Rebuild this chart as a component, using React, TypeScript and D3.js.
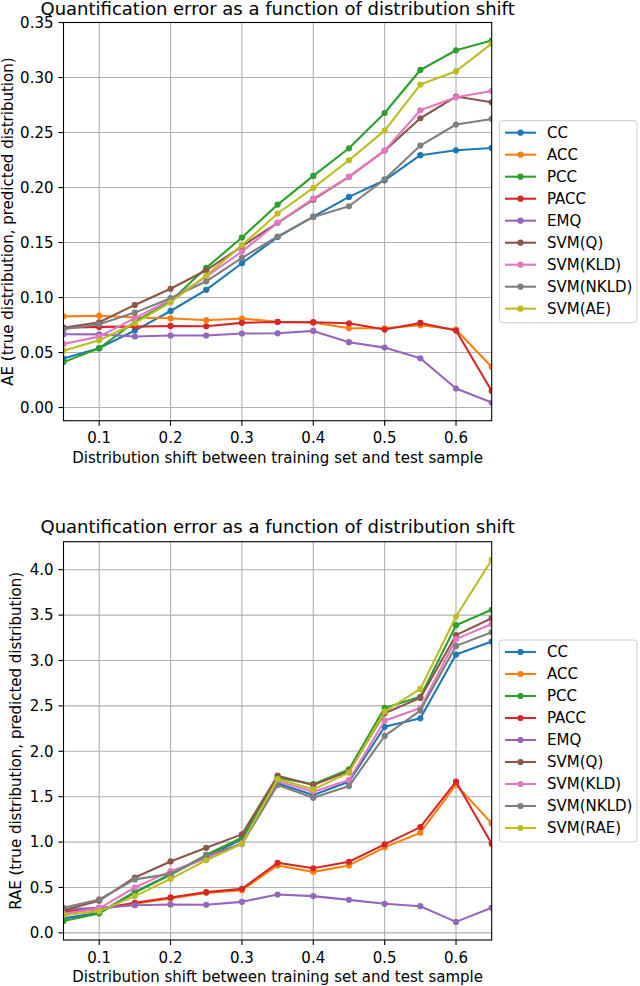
import * as d3 from 'd3';
import React from 'react';

const shifts = [0.05, 0.1, 0.15, 0.2, 0.25, 0.3, 0.35, 0.4, 0.45, 0.5, 0.55, 0.6, 0.65];
const xTicks = [0.1, 0.2, 0.3, 0.4, 0.5, 0.6];

const methodsAE = ['CC', 'ACC', 'PCC', 'PACC', 'EMQ', 'SVM(Q)', 'SVM(KLD)', 'SVM(NKLD)', 'SVM(AE)'];
const methodsRAE = ['CC', 'ACC', 'PCC', 'PACC', 'EMQ', 'SVM(Q)', 'SVM(KLD)', 'SVM(NKLD)', 'SVM(RAE)'];
const colors = ['#1f77b4', '#ff7f0e', '#2ca02c', '#d62728', '#9467bd', '#8c564b', '#e377c2', '#7f7f7f', '#bcbd22'];

const aeCC = [0.0445, 0.054, 0.07, 0.0878, 0.107, 0.1312, 0.155, 0.1735, 0.1915, 0.2066, 0.2294, 0.2339, 0.236];
const aeACC = [0.0829, 0.0835, 0.0818, 0.0812, 0.0794, 0.0809, 0.078, 0.0773, 0.0721, 0.0721, 0.0748, 0.0709, 0.0369];
const aePCC = [0.0413, 0.0538, 0.078, 0.0966, 0.127, 0.1546, 0.1845, 0.2106, 0.2357, 0.2678, 0.3069, 0.3248, 0.3336];
const aePACC = [0.0725, 0.0733, 0.0736, 0.0742, 0.0739, 0.077, 0.0778, 0.0776, 0.0766, 0.0709, 0.0769, 0.07, 0.0151];
const aeEMQ = [0.0667, 0.0665, 0.0646, 0.0655, 0.0655, 0.0673, 0.0675, 0.0697, 0.0594, 0.0545, 0.0448, 0.0173, 0.0045];
const aeSvmQ = [0.0726, 0.0775, 0.0933, 0.108, 0.1248, 0.1466, 0.168, 0.189, 0.2097, 0.2336, 0.263, 0.2827, 0.2775];
const aeSvmKLD = [0.0578, 0.0645, 0.0813, 0.098, 0.119, 0.1418, 0.168, 0.19, 0.2097, 0.2336, 0.2703, 0.2821, 0.2878];
const aeSvmNKLD = [0.0712, 0.0758, 0.0863, 0.0994, 0.1148, 0.136, 0.1555, 0.1733, 0.183, 0.2075, 0.2382, 0.2573, 0.2624];
const aeSvmAE = [0.0517, 0.0612, 0.0767, 0.0957, 0.12, 0.1475, 0.1764, 0.1997, 0.2248, 0.2518, 0.2936, 0.3057, 0.3309];

const raeCC = [0.16, 0.22, 0.45, 0.645, 0.84, 1.03, 1.647, 1.518, 1.665, 2.27, 2.364, 3.065, 3.208];
const raeACC = [0.22, 0.26, 0.32, 0.38, 0.44, 0.47, 0.743, 0.672, 0.743, 0.942, 1.103, 1.632, 1.206];
const raePCC = [0.13, 0.215, 0.445, 0.64, 0.86, 1.048, 1.71, 1.638, 1.8, 2.478, 2.6, 3.389, 3.558];
const raePACC = [0.238, 0.265, 0.331, 0.39, 0.449, 0.485, 0.772, 0.712, 0.783, 0.975, 1.165, 1.665, 0.981];
const raeEMQ = [0.26, 0.275, 0.305, 0.313, 0.31, 0.342, 0.423, 0.405, 0.364, 0.32, 0.294, 0.121, 0.276];
const raeSvmQ = [0.25, 0.355, 0.61, 0.787, 0.937, 1.085, 1.731, 1.628, 1.78, 2.419, 2.588, 3.279, 3.466];
const raeSvmKLD = [0.21, 0.27, 0.5, 0.68, 0.82, 0.99, 1.672, 1.555, 1.683, 2.337, 2.477, 3.235, 3.403];
const raeSvmNKLD = [0.276, 0.368, 0.589, 0.65, 0.85, 0.978, 1.628, 1.488, 1.617, 2.169, 2.448, 3.161, 3.312];
const raeSvmRAE = [0.195, 0.239, 0.405, 0.595, 0.8, 0.98, 1.695, 1.581, 1.765, 2.437, 2.687, 3.484, 4.109];

const aeTicks = [0, 0.05, 0.1, 0.15, 0.2, 0.25, 0.3, 0.35];
const raeTicks = [0, 0.5, 1, 1.5, 2, 2.5, 3, 3.5, 4];

const FONT = '"DejaVu Sans", sans-serif';
const FS = 15;
const left = 63.5, right = 491.7;

interface PanelProps {
    id: string;
    top: number;
    bottom: number;
    names: string[];
    values: number[][];
    yTicks: number[];
    fmt: string;
    yLabel: string;
    yLabelX: number;
    legendTop: number;
}

const Panel: React.FC<PanelProps> = ({ id, top, bottom, names, values, yTicks, fmt, yLabel, yLabelX, legendTop }) => {
    const all = values.flat();
    const lo = d3.min(all)!, hi = d3.max(all)!;
    const pad = (hi - lo) * 0.05;
    const x = d3.scaleLinear().domain([0.05, 0.65]).range([left, right]);
    const y = d3.scaleLinear().domain([lo - pad, hi + pad]).range([bottom, top]);
    const line = d3.line<number>().x((_, i) => x(shifts[i])).y(d => y(d));
    const f = d3.format(fmt);

    return (
        <g>
            <defs>
                <clipPath id={id}>
                    <rect x={left} y={top} width={right - left} height={bottom - top} />
                </clipPath>
            </defs>
            {xTicks.map(t => (
                <line key={'gx' + t} x1={x(t)} x2={x(t)} y1={top} y2={bottom} stroke="#b0b0b0" strokeWidth={1.1} />
            ))}
            {yTicks.map(t => (
                <line key={'gy' + t} x1={left} x2={right} y1={y(t)} y2={y(t)} stroke="#b0b0b0" strokeWidth={1.1} />
            ))}
            <g clipPath={`url(#${id})`}>
                {values.map((vals, k) => (
                    <g key={names[k]}>
                        <path d={line(vals) ?? undefined} fill="none" stroke={colors[k]} strokeWidth={2.1} strokeLinejoin="round" />
                        {vals.map((v, i) => (
                            <circle key={i} cx={x(shifts[i])} cy={y(v)} r={3.1} fill={colors[k]} />
                        ))}
                    </g>
                ))}
            </g>
            <rect x={left} y={top} width={right - left} height={bottom - top} fill="none" stroke="#000" strokeWidth={1.1} />
            {xTicks.map(t => (
                <g key={'tx' + t}>
                    <line x1={x(t)} x2={x(t)} y1={bottom} y2={bottom + 5} stroke="#000" strokeWidth={1.1} />
                    <text x={x(t)} y={bottom + 22.6} textAnchor="middle" fontSize={FS} fontFamily={FONT}>{d3.format('.1f')(t)}</text>
                </g>
            ))}
            {yTicks.map(t => (
                <g key={'ty' + t}>
                    <line x1={left - 5} x2={left} y1={y(t)} y2={y(t)} stroke="#000" strokeWidth={1.1} />
                    <text x={left - 10} y={y(t) + 5.4} textAnchor="end" fontSize={FS} fontFamily={FONT}>{f(t)}</text>
                </g>
            ))}
            <text x={(left + right) / 2} y={Math.max(top - 8.3, 14.6)} textAnchor="middle" fontSize={18} fontFamily={FONT}>
                Quantification error as a function of distribution shift
            </text>
            <text x={(left + right) / 2} y={bottom + 42.4} textAnchor="middle" fontSize={FS} fontFamily={FONT}>
                Distribution shift between training set and test sample
            </text>
            <text transform={`translate(${yLabelX},${(top + bottom) / 2}) rotate(-90)`} textAnchor="middle" fontSize={FS} fontFamily={FONT}>
                {yLabel}
            </text>
            <g>
                <rect x={499.3} y={legendTop} width={137.7} height={202} rx={3} fill="#fff" fillOpacity={0.8} stroke="#cccccc" strokeWidth={1} />
                {names.map((n, k) => {
                    const cy = legendTop + 12 + k * 22;
                    return (
                        <g key={n}>
                            <line x1={505} x2={536} y1={cy} y2={cy} stroke={colors[k]} strokeWidth={2.1} />
                            <circle cx={520.5} cy={cy} r={3.1} fill={colors[k]} />
                            <text x={547} y={cy + 5.4} fontSize={FS} fontFamily={FONT}>{n}</text>
                        </g>
                    );
                })}
            </g>
        </g>
    );
};

export default function App() {
    const aeValues = [aeCC, aeACC, aePCC, aePACC, aeEMQ, aeSvmQ, aeSvmKLD, aeSvmNKLD, aeSvmAE];
    const raeValues = [raeCC, raeACC, raePCC, raePACC, raeEMQ, raeSvmQ, raeSvmKLD, raeSvmNKLD, raeSvmRAE];
    return (
        <svg width={640} height={986} style={{ position: 'absolute', left: 0, top: 0, background: '#fff' }}>
            <rect width={640} height={986} fill="#fff" />
            <Panel id="clipAE" top={22.5} bottom={420.7} names={methodsAE} values={aeValues} yTicks={aeTicks}
                fmt=".2f" yLabel="AE (true distribution, predicted distribution)" yLabelX={12.5} legendTop={120.7} />
            <Panel id="clipRAE" top={541.7} bottom={940} names={methodsRAE} values={raeValues} yTicks={raeTicks}
                fmt=".1f" yLabel="RAE (true distribution, predicted distribution)" yLabelX={21} legendTop={640} />
        </svg>
    );
}
